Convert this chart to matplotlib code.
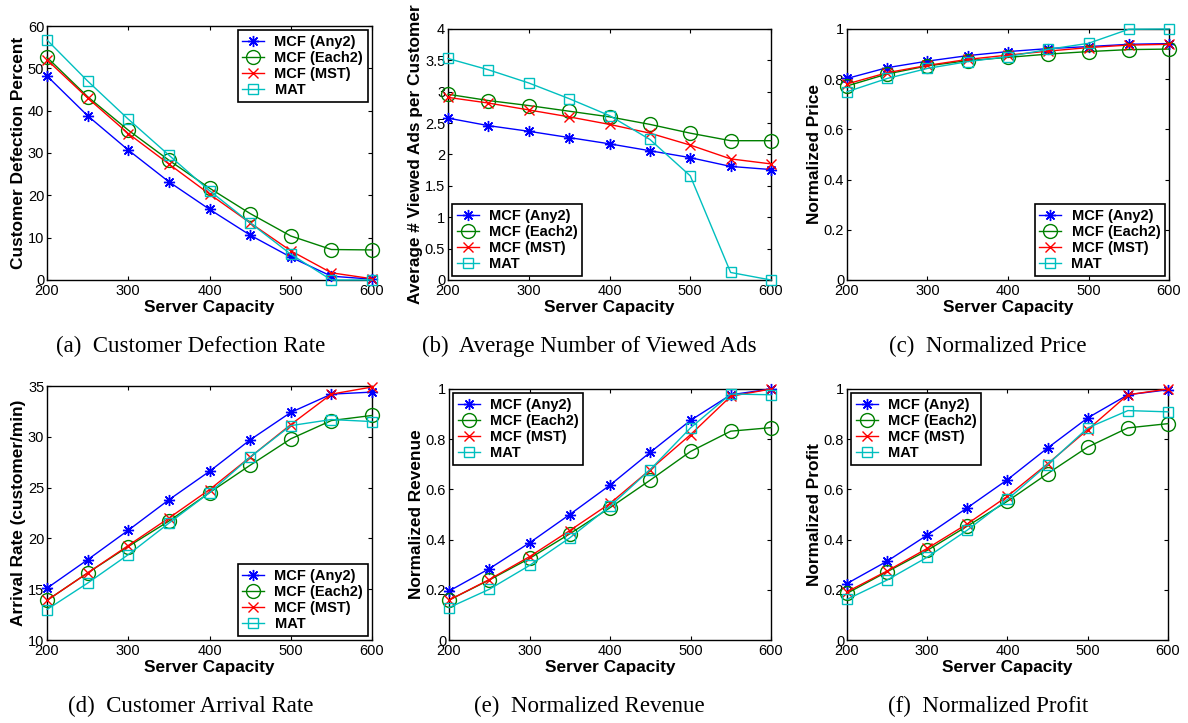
import numpy as np
import matplotlib.pyplot as plt

# server capacity (x axis shared by all panels)
capacity = [200, 250, 300, 350, 400, 450, 500, 550, 600]
series_names = ["MCF (Any2)", "MCF (Each2)", "MCF (MST)", "MAT"]

# (a) customer defection percent
defect_any2 = [48.2, 38.8, 30.7, 23.2, 16.7, 10.6, 5.4, 0.9, 0.2]
defect_each2 = [52.6, 43.3, 35.4, 28.3, 21.7, 15.7, 10.4, 7.2, 7.1]
defect_mst = [52.0, 43.0, 34.6, 27.4, 20.3, 13.5, 6.9, 1.7, 0.3]
defect_mat = [56.7, 47.0, 38.0, 29.5, 21.1, 13.5, 6.1, 0.0, 0.0]

# (b) average number of viewed ads
ads_any2 = [2.58, 2.46, 2.37, 2.27, 2.17, 2.06, 1.95, 1.81, 1.76]
ads_each2 = [2.96, 2.86, 2.78, 2.69, 2.60, 2.48, 2.34, 2.22, 2.22]
ads_mst = [2.91, 2.82, 2.71, 2.60, 2.48, 2.34, 2.15, 1.93, 1.85]
ads_mat = [3.53, 3.35, 3.14, 2.89, 2.62, 2.24, 1.66, 0.12, 0.0]

# (c) normalized price
price_any2 = [0.803, 0.846, 0.872, 0.894, 0.910, 0.922, 0.930, 0.939, 0.942]
price_each2 = [0.773, 0.821, 0.853, 0.874, 0.887, 0.900, 0.910, 0.918, 0.920]
price_mst = [0.781, 0.826, 0.855, 0.879, 0.896, 0.912, 0.926, 0.936, 0.939]
price_mat = [0.750, 0.803, 0.843, 0.870, 0.890, 0.919, 0.943, 0.999, 1.0]

# (d) customer arrival rate
arrival_any2 = [15.1, 17.9, 20.8, 23.8, 26.6, 29.7, 32.4, 34.2, 34.4]
arrival_each2 = [13.9, 16.6, 19.2, 21.7, 24.5, 27.2, 29.8, 31.6, 32.1]
arrival_mst = [13.9, 16.6, 19.3, 22.0, 24.8, 28.0, 31.2, 34.2, 34.9]
arrival_mat = [13.0, 15.6, 18.4, 21.5, 24.5, 28.0, 31.1, 31.7, 31.5]

# (e) normalized revenue
revenue_any2 = [0.195, 0.284, 0.387, 0.500, 0.617, 0.748, 0.875, 0.977, 1.0]
revenue_each2 = [0.159, 0.239, 0.325, 0.423, 0.527, 0.637, 0.751, 0.832, 0.846]
revenue_mst = [0.159, 0.241, 0.332, 0.436, 0.544, 0.679, 0.818, 0.971, 1.0]
revenue_mat = [0.129, 0.202, 0.297, 0.407, 0.533, 0.679, 0.845, 0.980, 0.977]

# (f) normalized profit
profit_any2 = [0.225, 0.314, 0.418, 0.527, 0.639, 0.765, 0.885, 0.977, 0.997]
profit_each2 = [0.186, 0.272, 0.357, 0.454, 0.553, 0.663, 0.769, 0.845, 0.862]
profit_mst = [0.192, 0.275, 0.365, 0.463, 0.573, 0.702, 0.838, 0.977, 1.0]
profit_mat = [0.162, 0.239, 0.330, 0.438, 0.560, 0.699, 0.845, 0.914, 0.909]

ylabels = ["Customer Defection Percent", "Average # Viewed Ads per Customer",
           "Normalized Price", "Arrival Rate (customer/min)",
           "Normalized Revenue", "Normalized Profit"]
captions = ["(a)  Customer Defection Rate", "(b)  Average Number of Viewed Ads",
            "(c)  Normalized Price", "(d)  Customer Arrival Rate",
            "(e)  Normalized Revenue", "(f)  Normalized Profit"]

panels = [
    [defect_any2, defect_each2, defect_mst, defect_mat],
    [ads_any2, ads_each2, ads_mst, ads_mat],
    [price_any2, price_each2, price_mst, price_mat],
    [arrival_any2, arrival_each2, arrival_mst, arrival_mat],
    [revenue_any2, revenue_each2, revenue_mst, revenue_mat],
    [profit_any2, profit_each2, profit_mst, profit_mat],
]
ylims = [(0, 60), (0, 4), (0, 1), (10, 35), (0, 1), (0, 1)]
yticks = [np.arange(0, 61, 10), np.arange(0, 4.01, 0.5), np.arange(0, 1.01, 0.2),
          np.arange(10, 36, 5), np.arange(0, 1.01, 0.2), np.arange(0, 1.01, 0.2)]
legend_loc = ["upper right", "lower left", "lower right",
              "lower right", "upper left", "upper left"]

styles = [
    dict(color="#0000ff", marker=(8, 2, 0), markersize=8, mew=1.0),
    dict(color="#008000", marker="o", markersize=10, mfc="none", mew=1.0),
    dict(color="#ff0000", marker="x", markersize=7, mew=1.0),
    dict(color="#00bfbf", marker="s", markersize=7, mfc="none", mew=1.0),
]

W, H = 1188, 723
# axes boxes in pixels: left, top, right, bottom
boxes = [(47, 26, 372, 280), (448, 29, 771, 280), (847, 29, 1169, 280),
         (47, 386, 372, 640), (449, 389, 771, 640), (847, 389, 1168, 640)]
cap_x = [191, 589, 988, 191, 589, 988]
cap_y = [346, 346, 346, 706, 706, 706]

fig = plt.figure(figsize=(W / 100, H / 100), dpi=100)
for i in range(6):
    l, t, r, b = boxes[i]
    ax = fig.add_axes([l / W, 1 - b / H, (r - l) / W, (b - t) / H])
    for k in range(4):
        ax.plot(capacity, panels[i][k], lw=1.0, label=series_names[k],
                clip_on=False, zorder=3, **styles[k])
    ax.set_xlim(200, 600)
    ax.set_ylim(*ylims[i])
    ax.set_xticks([200, 300, 400, 500, 600])
    ax.set_yticks(yticks[i])
    ax.set_yticklabels(["%g" % v for v in yticks[i]])
    ax.tick_params(direction="in", top=True, right=True, length=3, width=0.8,
                   labelsize=10.5)
    ax.tick_params(axis="y", pad=2)
    ax.tick_params(axis="x", pad=3)
    for lab in ax.get_xticklabels() + ax.get_yticklabels():
        lab.set_family("Liberation Sans")
    for s in ax.spines.values():
        s.set_linewidth(1.0)
    ax.set_xlabel("Server Capacity", family="Liberation Sans", fontweight="bold",
                  fontsize=12.4, labelpad=1)
    ax.set_ylabel(ylabels[i], family="Liberation Sans", fontweight="bold",
                  fontsize=12.4, labelpad=1)
    leg = ax.legend(loc=legend_loc[i], fancybox=False, framealpha=1,
                    edgecolor="black", borderaxespad=0.3, borderpad=0.3,
                    labelspacing=0.15, handlelength=1.5, handletextpad=0.7,
                    prop=dict(family="Liberation Sans", weight="bold", size=10.5))
    leg.get_frame().set_linewidth(1.2)
    leg.set_zorder(5)
    fig.text(cap_x[i] / W, 1 - cap_y[i] / H, captions[i], ha="center", va="center",
             family="Liberation Serif", fontsize=16.5)

fig.savefig("out.png", dpi=100)
